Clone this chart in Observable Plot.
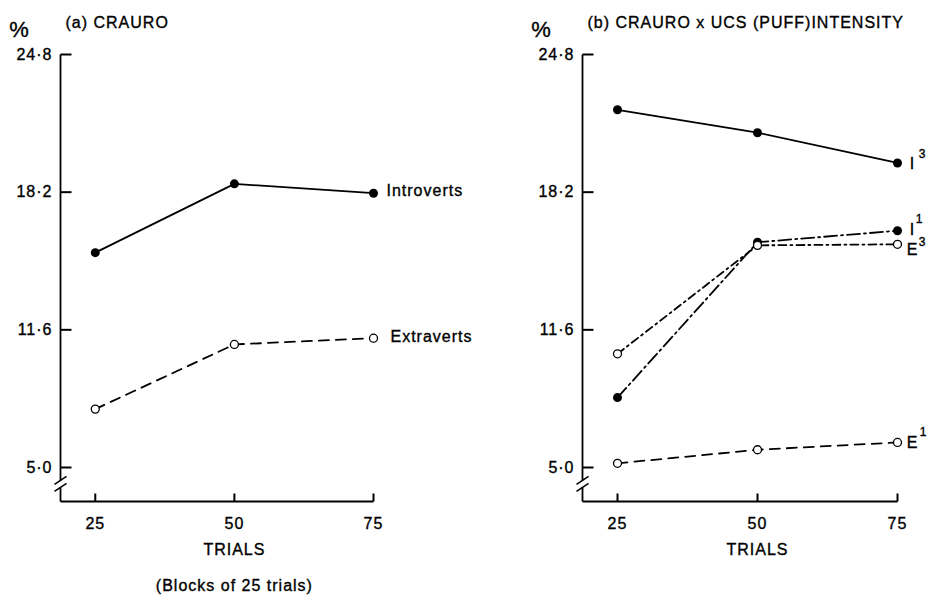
<!DOCTYPE html>
<html>
<head>
<meta charset="utf-8">
<script src="https://cdn.jsdelivr.net/npm/d3@7"></script>
<script src="https://cdn.jsdelivr.net/npm/@observablehq/plot@0.6"></script>
<style>
  html, body { margin: 0; padding: 0; background: #fff; }
  #chart { position: relative; width: 931px; height: 599px; overflow: hidden; background: #fff; }
  #chart svg { position: absolute; top: 0; overflow: visible; }
  #chart svg text { letter-spacing: 1px; stroke: #000; stroke-width: 0.35px; }
</style>
</head>
<body>
<div id="chart"></div>
<script>
// Blocks of trials on the x axis
const trials = [25, 50, 75];
// Percentage tick values on the y axis
const yTicks = [5.0, 11.6, 18.2, 24.8];

// Panel (a): CR percentage by personality group
const introverts = [15.3, 18.6, 18.15];
const extraverts = [7.8, 10.9, 11.2];

// Panel (b): personality x UCS (puff) intensity
const i3 = [22.15, 21.05, 19.6];
const i1 = [8.35, 15.8, 16.35];
const e3 = [10.45, 15.65, 15.7];
const e1 = [5.2, 5.85, 6.2];

const titleA = "(a) CRAURO";
const titleB = "(b) CRAURO x UCS (PUFF)INTENSITY";
const xLabel = "TRIALS";
const yLabel = "%";
const caption = "(Blocks of 25 trials)";

// Scale extents: the y axis is broken just below 5.0
const xDomain = [18.75, 75];
const yDomain = [3.37, 24.8];
const yBreak = [4.38, 4.05];

const fmt = d => d.toFixed(1).replace(".", "\u00b7");
const rows = vals => trials.map((t, i) => ({t, v: vals[i]}));

const dashes = {solid: null, dashed: "10,7", longDashDot: "13,4,2,4", dashDot: "8,4,2,4"};
const lw = 1.8;

function panel({left, width, marginLeft, marginRight, title, series, showCaption}) {
  const height = 599, marginTop = 54, marginBottom = 98;
  const fw = width - marginLeft - marginRight;
  const fh = height - marginTop - marginBottom;
  const ux = (xDomain[1] - xDomain[0]) / fw; // data units per pixel
  const uy = (yDomain[1] - yDomain[0]) / fh;
  const x0 = xDomain[0], y0 = yDomain[0];

  const marks = [
    // y axis line, interrupted by the break
    Plot.link([{a: yDomain[1], b: yBreak[0]}, {a: yBreak[1], b: y0}],
      {x1: () => x0, x2: () => x0, y1: "a", y2: "b", strokeWidth: lw}),
    // break slashes
    Plot.link(yBreak, {x1: () => x0 - 6 * ux, x2: () => x0 + 6 * ux,
      y1: d => d - 4 * uy, y2: d => d + 4 * uy, strokeWidth: 1.5}),
    // x axis line
    Plot.link([y0], {x1: () => x0, x2: () => xDomain[1], y1: d => d, y2: d => d, strokeWidth: lw}),
    // inward ticks
    Plot.link(yTicks, {x1: () => x0, x2: () => x0 + 11 * ux, y1: d => d, y2: d => d, strokeWidth: 2}),
    Plot.link(trials, {x1: d => d, x2: d => d, y1: () => y0, y2: () => y0 + 8 * uy, strokeWidth: 2}),
    Plot.axisY({ticks: yTicks, tickSize: 0, tickPadding: 8, tickFormat: fmt, label: null, fontSize: 16}),
    Plot.axisX({ticks: trials, tickSize: 0, tickPadding: 16, tickFormat: d => String(d), label: null, fontSize: 16}),
    Plot.text([xLabel], {x: () => 50, frameAnchor: "bottom", dy: 53, fontSize: 16}),
    Plot.text([title], {frameAnchor: "top-left", dx: 5, dy: -27, textAnchor: "start", lineAnchor: "bottom", fontSize: 16}),
    Plot.text([yLabel], {frameAnchor: "top-left", dx: -41, dy: -18, textAnchor: "middle", lineAnchor: "bottom", fontSize: 22})
  ];
  if (showCaption) {
    marks.push(Plot.text([caption], {x: () => 50, frameAnchor: "bottom", dy: 89, fontSize: 16}));
  }

  for (const s of series) {
    const data = rows(s.values);
    marks.push(Plot.line(data, {x: "t", y: "v", strokeWidth: lw, strokeDasharray: dashes[s.style]}));
  }
  for (const s of series) {
    const data = rows(s.values);
    marks.push(s.filled
      ? Plot.dot(data, {x: "t", y: "v", r: 4.5, fill: "black"})
      : Plot.dot(data, {x: "t", y: "v", r: 4, fill: "white", stroke: "black", strokeWidth: 1.3}));
    const last = data.slice(-1);
    const o = s.offsets;
    marks.push(Plot.text(last, {x: "t", y: "v", text: () => s.name, textAnchor: o.anchor,
      dx: o.dx, dy: o.dy, fontSize: 16}));
    if (s.sup) {
      marks.push(Plot.text(last, {x: "t", y: "v", text: () => s.sup, textAnchor: "middle",
        dx: o.sdx, dy: o.sdy, fontSize: 12}));
    }
  }

  const svg = Plot.plot({
    width, height, marginLeft, marginRight, marginTop, marginBottom,
    x: {domain: xDomain},
    y: {domain: yDomain},
    style: {fontFamily: "'Liberation Sans', Arial, Helvetica, sans-serif", fontSize: "16px", color: "#000", background: "transparent", overflow: "visible"},
    marks
  });
  svg.style.left = left + "px";
  return svg;
}

const chart = document.getElementById("chart");

chart.append(panel({
  left: 0, width: 465, marginLeft: 60, marginRight: 92, title: titleA, showCaption: true,
  series: [
    {name: "Introverts", values: introverts, filled: true, style: "solid",
      offsets: {anchor: "start", dx: 13, dy: -2}},
    {name: "Extraverts", values: extraverts, filled: false, style: "dashed",
      offsets: {anchor: "start", dx: 17, dy: -1}}
  ]
}));

chart.append(panel({
  left: 465, width: 466, marginLeft: 117, marginRight: 34, title: titleB, showCaption: false,
  series: [
    {name: "I", sup: "3", values: i3, filled: true, style: "solid",
      offsets: {anchor: "middle", dx: 15, dy: 1, sdx: 25, sdy: -9}},
    {name: "I", sup: "1", values: i1, filled: true, style: "longDashDot",
      offsets: {anchor: "middle", dx: 15, dy: -1, sdx: 22, sdy: -12}},
    {name: "E", sup: "3", values: e3, filled: false, style: "dashDot",
      offsets: {anchor: "middle", dx: 15, dy: 6, sdx: 25, sdy: -2}},
    {name: "E", sup: "1", values: e1, filled: false, style: "dashed",
      offsets: {anchor: "middle", dx: 15, dy: 0, sdx: 26, sdy: -10}}
  ]
}));
</script>
</body>
</html>
